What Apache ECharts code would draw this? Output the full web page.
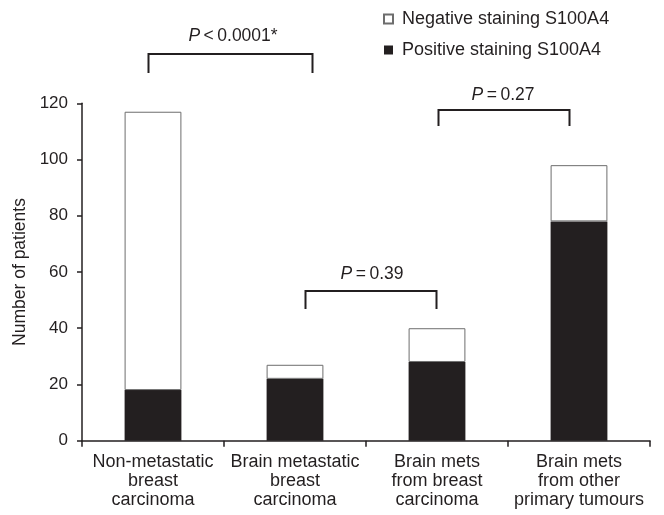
<!DOCTYPE html>
<html>
<head>
<meta charset="utf-8">
<style>
html,body{margin:0;padding:0;background:#fff;}
#chart{width:664px;height:515px;}
</style>
<script src="https://cdn.jsdelivr.net/npm/echarts@6/dist/echarts.min.js"></script>
</head>
<body>
<div id="chart"></div>
<script>
var categories = [
  'Non-metastatic\nbreast\ncarcinoma',
  'Brain metastatic\nbreast\ncarcinoma',
  'Brain mets\nfrom breast\ncarcinoma',
  'Brain mets\nfrom other\nprimary tumours'
];
var positive = [18, 22, 28, 78];
var negative = [99, 5, 12, 20];
var yTicks = { min: 0, max: 120, interval: 20 };

var ink = '#231f20';
var font = 'Liberation Sans, Arial, Helvetica, sans-serif';
var chart = echarts.init(document.getElementById('chart'));

function bracket(x1, x2, yTop, yBot) {
  return {
    type: 'polyline',
    shape: { points: [[x1, yBot], [x1, yTop], [x2, yTop], [x2, yBot]] },
    style: { stroke: ink, lineWidth: 2, fill: null }
  };
}
function ptext(cx, cy, rest) {
  return {
    type: 'text',
    x: cx, y: cy,
    style: {
      text: '{i|P}{n|' + rest + '}',
      align: 'center', verticalAlign: 'middle',
      rich: {
        i: { fontStyle: 'italic', fontSize: 17.5, fontFamily: font, fill: ink },
        n: { fontSize: 17.5, fontFamily: font, fill: ink }
      }
    }
  };
}

chart.setOption({
  animation: false,
  backgroundColor: '#fff',
  textStyle: { fontFamily: font, color: ink },
  grid: { left: 82, right: 14, top: 103.3, bottom: 74.3, containLabel: false },
  legend: {
    orient: 'vertical',
    left: 383, top: 10,
    padding: 0,
    itemWidth: 9, itemHeight: 9,
    itemGap: 13,
    icon: 'rect',
    data: ['Negative staining S100A4', 'Positive staining S100A4'],
    textStyle: { fontSize: 18, color: ink, fontFamily: font, padding: [0, 0, 0, 4] }
  },
  xAxis: {
    type: 'category',
    data: categories,
    axisLine: { lineStyle: { color: ink, width: 1.5 } },
    axisTick: { show: true, length: 6, lineStyle: { color: ink, width: 1.5 } },
    axisLabel: { color: ink, fontSize: 18, lineHeight: 19, margin: 12, interval: 0, fontFamily: font }
  },
  yAxis: {
    type: 'value',
    min: yTicks.min, max: yTicks.max, interval: yTicks.interval,
    name: 'Number of patients',
    nameLocation: 'middle',
    nameGap: 47,
    nameTextStyle: { fontSize: 17.5, color: ink, fontFamily: font },
    axisLine: { show: true, lineStyle: { color: ink, width: 1.5 } },
    axisTick: { show: true, length: 5, lineStyle: { color: ink, width: 1.5 } },
    axisLabel: { color: ink, fontSize: 17, margin: 14, fontFamily: font },
    splitLine: { show: false }
  },
  series: [
    {
      name: 'Positive staining S100A4',
      type: 'bar',
      stack: 'total',
      barWidth: '40%',
      data: positive,
      itemStyle: { color: ink, borderColor: ink, borderWidth: 0 }
    },
    {
      name: 'Negative staining S100A4',
      type: 'bar',
      stack: 'total',
      barWidth: '40%',
      data: negative,
      itemStyle: { color: '#ffffff', borderColor: '#6d6d6d', borderWidth: 1 }
    }
  ],
  graphic: [
    bracket(148.5, 312.5, 54, 73),
    ptext(233, 36, '\u2009<\u20090.0001*'),
    bracket(438.5, 569.5, 110, 126),
    ptext(503, 95, '\u2009=\u20090.27'),
    bracket(305.5, 436.5, 291, 309),
    ptext(372, 274, '\u2009=\u20090.39')
  ]
});
</script>
</body>
</html>
